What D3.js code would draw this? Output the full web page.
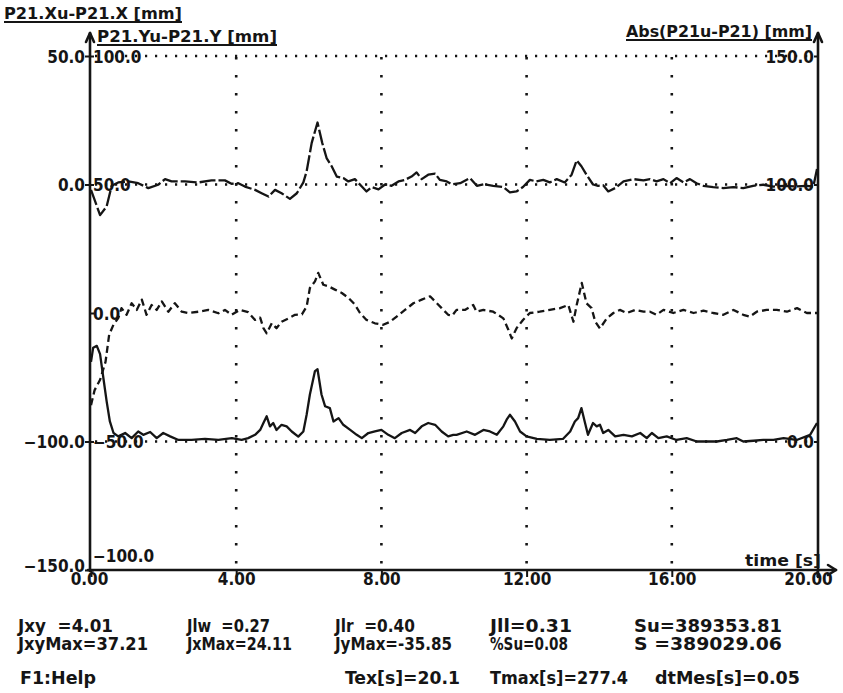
<!DOCTYPE html>
<html>
<head>
<meta charset="utf-8">
<script src="https://cdn.jsdelivr.net/npm/d3@7"></script>
<style>
  html, body { margin: 0; padding: 0; background: #fff; }
  svg { display: block; }
  text { font-family: "DejaVu Sans Condensed", "DejaVu Sans", sans-serif; font-stretch: condensed; font-weight: bold; fill: #151515; white-space: pre; }
</style>
</head>
<body>
<script>
// ---- measured deviations over a 20 s run ----
// P21.Xu - P21.X [mm]
const tX = [0.0,0.25,0.43,0.57,0.75,1.03,1.3,1.58,1.85,2.04,2.22,2.59,2.96,3.32,3.69,3.87,4.06,4.24,4.52,4.7,4.89,5.07,5.25,5.48,5.67,5.85,5.94,6.08,6.24,6.37,6.49,6.63,6.77,6.95,7.09,7.27,7.46,7.59,7.73,7.92,8.1,8.28,8.47,8.65,8.83,8.97,9.11,9.29,9.48,9.61,9.8,9.94,10.17,10.44,10.63,10.81,11.08,11.36,11.54,11.72,11.9,12.09,12.27,12.46,12.64,12.83,13.05,13.24,13.38,13.51,13.65,13.83,13.97,14.11,14.25,14.44,14.67,14.94,15.22,15.4,15.58,15.77,15.95,16.13,16.32,16.5,16.68,16.87,17.14,17.42,17.69,17.97,18.24,18.52,18.8,19.1,19.4,19.7,19.9,20.0];
const devX = [-2.1,-11.9,-8.6,-0.5,0.8,1.2,0.5,-1.4,-0.1,2.1,1.2,1.2,0.8,1.6,1.6,0.3,0.5,-0.8,-2.1,-3.4,-4.7,-2.1,-3.4,-5.6,-3.4,0.8,5.1,16.2,24.11,16.2,10.3,7.1,3.1,2.5,1.2,2.1,-0.8,-2.7,-1.0,-1.9,0.0,-0.5,1.2,1.8,3.1,4.7,2.1,3.8,4.2,1.8,1.2,0.1,0.5,2.5,-0.5,0.1,-0.5,-1.0,-3.1,-2.7,-1.0,1.8,1.2,1.8,0.8,2.1,0.8,3.8,9.4,7.1,3.8,0.0,-0.5,-0.3,-2.7,-1.4,1.2,2.1,1.6,2.1,1.2,2.1,0.5,2.5,0.8,2.1,0.5,-0.5,-1.0,-1.4,-1.0,-1.4,-0.5,-0.1,-0.8,-0.5,-0.8,-0.5,-0.8,6.0];

// P21.Yu - P21.Y [mm]
const tY = [0.0,0.1,0.25,0.4,0.5,0.62,0.75,0.84,0.98,1.12,1.26,1.4,1.53,1.67,1.81,1.95,2.13,2.31,2.5,2.68,2.96,3.23,3.51,3.69,3.87,4.1,4.33,4.52,4.66,4.75,4.84,4.98,5.11,5.25,5.44,5.62,5.81,5.94,6.03,6.17,6.26,6.4,6.54,6.72,6.91,7.09,7.27,7.41,7.59,7.82,8.05,8.24,8.42,8.65,8.88,9.11,9.34,9.48,9.66,9.84,9.95,10.07,10.3,10.53,10.62,10.81,11.08,11.36,11.5,11.59,11.72,11.9,12.09,12.36,12.64,12.92,13.15,13.29,13.38,13.52,13.65,13.79,13.89,14.02,14.21,14.39,14.57,14.76,14.99,15.22,15.4,15.58,15.77,16.04,16.32,16.6,16.87,17.14,17.42,17.7,17.97,18.15,18.34,18.61,18.89,19.17,19.45,19.72,20.0];
const devY = [-35.85,-30.0,-26.0,-19.0,-8.5,-4.5,-2.0,1.9,-0.7,3.8,1.2,5.2,-0.7,3.1,1.2,4.5,0.5,3.8,0.5,0.0,0.5,1.2,-0.1,1.2,-0.7,1.2,0.3,-2.7,-1.8,-5.9,-7.9,-4.0,-5.9,-3.4,-2.1,-0.7,-0.5,2.5,9.7,12.3,15.6,11.0,10.4,9.1,7.8,5.9,3.3,0.0,-2.7,-4.0,-4.6,-3.4,-1.4,1.2,3.8,5.2,6.5,4.5,1.9,-0.7,-1.0,1.2,1.2,3.1,0.5,1.2,0.5,-2.1,-6.6,-9.9,-6.0,-2.7,0.0,0.5,1.2,1.9,3.1,-3.4,3.1,11.7,3.8,1.9,-3.3,-6.0,-2.1,0.0,1.2,0.0,1.2,0.5,0.5,-0.7,1.2,0.0,1.2,0.0,0.9,0.0,-0.7,1.2,-0.7,-1.4,0.5,1.2,1.2,0.5,1.9,0.0,0.0];

// Abs(P21u - P21) [mm]
const tAbs = [0.0,0.06,0.16,0.25,0.34,0.43,0.52,0.62,0.75,0.94,1.12,1.3,1.44,1.63,1.81,1.99,2.18,2.41,2.77,3.14,3.51,3.88,4.15,4.33,4.52,4.66,4.75,4.84,4.93,5.02,5.11,5.25,5.39,5.53,5.71,5.85,5.94,6.03,6.17,6.24,6.35,6.45,6.58,6.68,6.82,6.95,7.14,7.32,7.46,7.64,7.82,8.0,8.19,8.37,8.56,8.79,8.93,9.11,9.29,9.48,9.66,9.84,9.98,10.07,10.35,10.58,10.81,10.99,11.18,11.36,11.45,11.54,11.68,11.82,12.0,12.28,12.64,13.0,13.2,13.33,13.42,13.51,13.6,13.69,13.83,13.93,14.02,14.11,14.25,14.44,14.67,14.9,15.13,15.31,15.45,15.63,15.86,16.13,16.41,16.69,16.96,17.24,17.52,17.79,17.97,18.25,18.52,18.8,19.08,19.44,19.81,20.0];
const devAbs = [31.0,36.5,37.21,34.0,24.8,15.7,7.8,3.3,2.0,3.3,1.3,3.9,2.6,3.7,1.3,3.3,2.0,0.6,0.6,1.0,0.6,1.3,0.6,1.3,2.6,4.5,7.2,9.8,5.9,7.2,4.5,6.5,5.9,3.9,1.9,3.9,10.4,18.3,27.4,28.1,18.3,13.7,13.0,7.8,9.1,6.5,4.5,2.6,1.3,3.3,3.9,4.5,2.6,1.3,3.3,4.5,3.3,5.9,7.2,6.5,3.9,2.0,2.6,2.6,3.9,2.6,4.5,3.9,2.6,5.9,8.5,10.4,7.8,3.9,2.0,1.0,0.6,1.0,3.9,7.8,9.1,13.0,7.8,2.6,7.2,5.9,6.5,3.3,4.5,2.0,2.6,2.0,3.3,1.3,3.3,1.3,2.0,0.6,1.3,0.0,0.0,0.0,0.6,1.3,0.0,0.3,0.6,0.6,1.3,0.6,2.6,7.2];

// axis ticks
const timeTicks = [0, 4, 8, 12, 16, 20];
const gridTimes = [4, 8, 12, 16];
const xAxisTicks = [50, 0, -100, -150];
const yAxisTicks = [100, 50, 0, -50, -100];
const absAxisTicks = [150, 100, 0];
const xGridLevels = [50, 0, -100];

// axis titles
const titleX = "P21.Xu-P21.X [mm]";
const titleY = "P21.Yu-P21.Y [mm]";
const titleAbs = "Abs(P21u-P21) [mm]";
const titleTime = "time [s]";

// summary readouts below the plot
const statRow1 = ["Jxy  =4.01", "Jlw  =0.27", "Jlr  =0.40", "Jll=0.31", "Su=389353.81"];
const statRow2 = ["JxyMax=37.21", "JxMax=24.11", "JyMax=-35.85", "%Su=0.08", "S =389029.06"];
const statRow3 = ["F1:Help", "Tex[s]=20.1", "Tmax[s]=277.4", "dtMes[s]=0.05"];

// ---- layout ----
const W = 843, H = 693;
const ink = "#151515";
const pL = 91, pR = 817, pT = 56, pB = 570;

const svg = d3.select("body").append("svg").attr("width", W).attr("height", H);
svg.append("rect").attr("width", W).attr("height", H).attr("fill", "#fff");

const x = d3.scaleLinear().domain([0, 20]).range([pL, pR]);
const yX = d3.scaleLinear().domain([-150, 50]).range([pB, pT]);
const yY = d3.scaleLinear().domain([-100, 100]).range([pB, pT]);
const yA = d3.scaleLinear().domain([-50, 150]).range([pB, pT]);

// dotted grid
const grid = svg.append("g").attr("stroke", ink).attr("fill", "none");
grid.selectAll("line.v").data(gridTimes).join("line").attr("class", "v")
  .attr("x1", d => x(d)).attr("x2", d => x(d))
  .attr("y1", pT + 1).attr("y2", pB)
  .attr("stroke-width", 2.6).attr("stroke-dasharray", "2.4 15.6");
grid.selectAll("line.h").data(xGridLevels).join("line").attr("class", "h")
  .attr("x1", pL + 4).attr("x2", pR - 2)
  .attr("y1", d => yX(d)).attr("y2", d => yX(d))
  .attr("stroke-width", 2.4).attr("stroke-dasharray", "2.2 7.8");

// left outer axis (X deviation)
const fmt1 = d3.format(".1f");
const axX = svg.append("g").attr("transform", `translate(${pL - 1},0)`)
  .call(d3.axisLeft(yX).tickValues(xAxisTicks).tickFormat(fmt1).tickSize(5).tickPadding(0));
axX.selectAll("text").style("font-size", "17px").attr("fill", ink)
  .attr("dy", d => d === -150 ? "0.1em" : "0.36em");

// inner left axis (Y deviation)
const axY = svg.append("g").attr("transform", `translate(${pL - 1},0)`)
  .call(d3.axisRight(yY).tickValues(yAxisTicks).tickFormat(fmt1).tickSize(4).tickPadding(-1));
axY.selectAll("text").style("font-size", "17px").attr("fill", ink)
  .attr("y", d => d === -100 ? -15 : 0).attr("dy", "0.36em");

// right axis (absolute deviation)
const axA = svg.append("g").attr("transform", `translate(${pR + 1},0)`)
  .call(d3.axisLeft(yA).tickValues(absAxisTicks).tickFormat(fmt1).tickSize(4).tickPadding(0));
axA.selectAll("text").style("font-size", "17px").attr("fill", ink).attr("dy", "0.36em");

// time axis
const axT = svg.append("g").attr("transform", `translate(0,${pB})`)
  .call(d3.axisBottom(x).tickValues(timeTicks).tickFormat(d3.format(".2f")).tickSize(7).tickPadding(-4));
axT.selectAll("text").style("font-size", "17px").attr("fill", ink)
  .attr("x", d => d === 20 ? -9 : (d === 0 ? -2 : 0));

[axX, axY, axA, axT].forEach(g => {
  g.select(".domain").remove();
  g.selectAll(".tick line").attr("stroke", ink).attr("stroke-width", 2);
});

// axis lines with arrow heads
const axes = svg.append("g").attr("stroke", ink).attr("stroke-width", 2.6).attr("fill", "none")
  .attr("stroke-linecap", "round").attr("stroke-linejoin", "round");
axes.append("line").attr("x1", pL - 1).attr("x2", pL - 1).attr("y1", pB + 1).attr("y2", 33);
axes.append("path").attr("d", `M${pL - 5},42 L${pL - 1},33 L${pL + 3},42`);
axes.append("line").attr("x1", pR + 1).attr("x2", pR + 1).attr("y1", pB + 7).attr("y2", 33);
axes.append("path").attr("d", `M${pR - 3},42 L${pR + 1},33 L${pR + 5},42`);
axes.append("line").attr("x1", pL - 3).attr("x2", 836).attr("y1", pB).attr("y2", pB);
axes.append("path").attr("d", `M828,${pB - 5} L836,${pB} L828,${pB + 5}`);

// titles, underlined
function title(txt, tx, ty, len, ulY) {
  svg.append("text").attr("x", tx).attr("y", ty).text(txt)
    .style("font-size", "16px").attr("textLength", len).attr("lengthAdjust", "spacingAndGlyphs");
  if (ulY) svg.append("line").attr("x1", tx).attr("x2", tx + len).attr("y1", ulY).attr("y2", ulY)
    .attr("stroke", ink).attr("stroke-width", 1.8);
}
title(titleX, 4, 19, 178, 22);
title(titleY, 97, 42, 180, 45);
title(titleAbs, 626, 37, 186, 40);
title(titleTime, 745, 566, 76, null);

// traces
const traces = svg.append("g").attr("fill", "none").attr("stroke", ink)
  .attr("stroke-width", 2.3).attr("stroke-linejoin", "round").attr("stroke-linecap", "butt");
const lineX = d3.line().x((d, i) => x(tX[i])).y(d => yX(d));
const lineY = d3.line().x((d, i) => x(tY[i])).y(d => yY(d));
const lineA = d3.line().x((d, i) => x(tAbs[i])).y(d => yA(d));
traces.append("path").attr("d", lineX(devX)).attr("stroke-dasharray", "16 3");
traces.append("path").attr("d", lineY(devY)).attr("stroke-dasharray", "7 4");
traces.append("path").attr("d", lineA(devAbs));

// summary readouts
const colX = [18, 187, 335, 490, 634];
const row1Len = [95, 83, 80, 82, 148];
const row2Len = [130, 105, 117, 78, 148];
const row3X = [20, 345, 490, 655];
const row3Len = [76, 115, 138, 145];
function statRow(items, xs, lens, by) {
  svg.append("g").selectAll("text").data(items).join("text")
    .attr("x", (d, i) => xs[i]).attr("y", by).text(d => d)
    .style("font-size", "17px")
    .attr("textLength", (d, i) => lens[i]).attr("lengthAdjust", "spacingAndGlyphs");
}
statRow(statRow1, colX, row1Len, 632);
statRow(statRow2, colX, row2Len, 650);
statRow(statRow3, row3X, row3Len, 684);
</script>
</body>
</html>
